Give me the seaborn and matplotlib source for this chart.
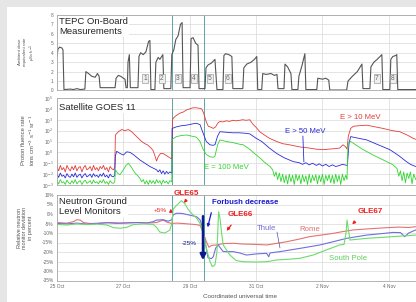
import numpy as np
import matplotlib
matplotlib.use("Agg")
import matplotlib.pyplot as plt
from matplotlib.patches import Rectangle
import seaborn as sns

sns.set_style("white")
plt.rcParams['font.family'] = ['Liberation Sans', 'DejaVu Sans']

# time axis: days since 25 Oct 2003 00:00 UT
day_ticks = [0, 2, 4, 6, 8, 10]
day_labels = ['25 Oct', '27 Oct', '29 Oct', '31 Oct', '2 Nov', '4 Nov']
event_lines = [3.46, 4.43]

# --- TEPC on-board dose rate (uSv/h)
tepc_t = [0.00, 0.03, 0.08, 0.15, 0.18,
          0.21, 0.40, 0.50, 0.60, 0.70, 0.84,
          0.87, 0.95, 1.05, 1.15, 1.22, 1.27,
          1.30, 1.50, 1.75,
          1.78, 1.85, 1.92, 2.00, 2.05,
          2.08, 2.12,
          2.14, 2.18,
          2.21, 2.44,
          2.47, 2.52, 2.60, 2.68, 2.76, 2.80,
          2.83, 2.95,
          2.98, 3.05, 3.10, 3.19,
          3.22, 3.43,
          3.46, 3.52, 3.58, 3.65, 3.72, 3.77,
          3.80, 4.01,
          4.04, 4.10, 4.18, 4.25,
          4.28, 4.46,
          4.49, 4.55, 4.65, 4.76,
          4.82, 5.00,
          5.03, 5.08, 5.18, 5.27,
          5.30, 5.60,
          5.63, 5.72, 5.85, 5.95, 6.02,
          6.05, 6.17,
          6.20, 6.30, 6.45, 6.55, 6.63,
          6.66, 6.84,
          6.87, 6.95, 7.05,
          7.08, 7.26,
          7.29, 7.38, 7.47,
          7.50, 7.83,
          7.86, 8.00, 8.10, 8.19,
          8.22, 8.73,
          8.77, 8.90, 9.05, 9.19,
          9.22, 9.43,
          9.46, 9.55, 9.65, 9.79,
          9.82, 10.03,
          10.06, 10.12, 10.20, 10.24,
          10.27, 10.50, 10.81]
tepc_v = [3.6, 4.4, 4.6, 4.5, 4.3,
          0.1, 0.15, 0.1, 0.2, 0.1, 0.15,
          2.0, 1.8, 1.5, 1.4, 1.8, 1.5,
          0.3, 0.3, 0.3,
          1.3, 1.6, 1.5, 1.3, 1.2,
          0.3, 0.3,
          3.0, 3.8,
          0.3, 0.3,
          3.6, 4.0, 3.8, 4.1, 5.2, 5.3,
          0.1, 0.1,
          3.0, 3.5, 3.3, 3.8,
          0.2, 0.2,
          3.8, 4.3, 5.4, 5.8, 7.0, 7.2,
          0.3, 0.3,
          5.5, 5.6, 5.0, 4.8,
          0.2, 0.2,
          2.4, 2.7, 2.9, 3.3,
          0.1, 0.1,
          3.7, 3.9, 3.8, 3.6,
          0.2, 0.2,
          2.4, 2.8, 3.0, 3.3, 3.6,
          0.1, 0.1,
          1.8, 1.7, 1.8, 1.6, 1.7,
          0.2, 0.2,
          2.8, 2.5, 1.8,
          0.1, 0.1,
          1.5, 2.6, 3.9,
          0.1, 0.1,
          1.3, 1.2, 1.3, 1.1,
          0.05, 0.05,
          1.0, 1.5, 2.0, 2.8,
          0.2, 0.2,
          2.5, 3.0, 3.3, 3.8,
          0.1, 0.1,
          3.3, 3.6, 3.7, 3.8,
          0.1, 0.1, 0.1]
orbit_t = [2.65, 3.16, 3.64, 4.13, 4.61, 5.15, 9.64, 10.12]
orbit_no = ['1', '2', '3', '4', '5', '6', '7', '8']

# --- GOES 11 proton flux, log10 values
goes_bg_t = [0.00, 0.05, 0.10, 0.15, 0.20, 0.25, 0.30, 0.35, 0.40, 0.45,
             0.50, 0.55, 0.60, 0.65, 0.70, 0.75, 0.80, 0.85, 0.90, 0.95,
             1.00, 1.05, 1.10, 1.15, 1.20, 1.25, 1.30, 1.35, 1.40, 1.45,
             1.50, 1.55, 1.60, 1.65, 1.70, 1.74]
red_bg = [-1.3, -1.7, -1.2, -1.6, -1.4, -1.8, -1.2, -1.5, -1.7, -1.3,
          -1.6, -1.2, -1.7, -1.4, -1.3, -1.8, -1.4, -1.2, -1.6, -1.5,
          -1.3, -1.7, -1.2, -1.6, -1.4, -1.7, -1.3, -1.5, -1.2, -1.6,
          -1.4, -1.8, -1.3, -1.5, -1.6, -1.4]
blue_bg = [-2.0, -2.3, -1.9, -2.2, -2.1, -2.35, -1.95, -2.2, -2.3, -2.0,
           -2.25, -1.9, -2.3, -2.1, -2.0, -2.35, -2.1, -1.95, -2.25, -2.15,
           -2.0, -2.3, -1.95, -2.2, -2.1, -2.3, -2.0, -2.2, -1.9, -2.25,
           -2.1, -2.35, -2.0, -2.2, -2.25, -2.1]
green_bg = [-2.6, -2.9, -2.5, -2.8, -2.7, -2.95, -2.55, -2.8, -2.9, -2.6,
            -2.85, -2.5, -2.9, -2.7, -2.6, -2.95, -2.7, -2.55, -2.85, -2.75,
            -2.6, -2.9, -2.55, -2.8, -2.7, -2.9, -2.6, -2.8, -2.5, -2.85,
            -2.7, -2.95, -2.6, -2.8, -2.85, -2.7]

red_ev_t = [1.76, 1.85, 1.95, 2.05, 2.15, 2.25, 2.35, 2.45, 2.55, 2.65,
            2.72, 2.80, 2.89, 2.95, 3.00, 3.05, 3.12, 3.20, 3.30, 3.40, 3.46,
            3.48, 3.52, 3.60, 3.70, 3.80, 3.90, 4.00, 4.10, 4.20, 4.30,
            4.36, 4.42, 4.50, 4.56, 4.65, 4.71, 4.78, 4.85, 4.91, 5.00,
            5.10, 5.20, 5.30, 5.40, 5.50, 5.60, 5.70, 5.81, 5.90, 6.00,
            6.11, 6.25, 6.40, 6.62, 6.80, 7.00, 7.32, 7.60, 7.80, 8.02,
            8.20, 8.40, 8.52, 8.62, 8.70, 8.74, 8.78, 8.85, 8.93, 9.10,
            9.33, 9.50, 9.83, 10.10, 10.33, 10.55, 10.73, 10.81]
red_ev_v = [1.6, 1.9, 2.1, 2.0, 2.1, 1.9, 1.6, 1.3, 1.0, 0.8,
            0.7, 0.5, 0.2, -0.3, -0.8, -0.4, -0.1, -0.1, -0.3, -0.5, -0.6,
            3.0, 3.2, 3.4, 3.6, 3.7, 3.9, 4.0, 4.1, 4.1, 4.05,
            4.0, 3.6, 2.8, 2.4, 2.3, 2.2, 2.35, 2.7, 2.85, 2.8,
            2.9, 2.85, 2.95, 2.9, 2.95, 3.0, 2.95, 3.0, 2.6, 2.3,
            1.9, 1.6, 1.3, 1.0, 0.8, 0.7, 0.5, 0.4, 0.3, 0.25,
            0.3, 0.35, 0.4, 0.7, 0.5, 0.3, 1.5, 2.2, 2.4, 2.45,
            2.5, 2.4, 2.2, 2.0, 1.9, 1.6, 1.3, 1.2]

blue_ev_t = [1.76, 1.80, 1.90, 2.00, 2.10, 2.20, 2.30, 2.40, 2.50, 2.60,
             2.70, 2.80, 2.90, 3.00, 3.05, 3.10, 3.15, 3.20, 3.25, 3.30,
             3.35, 3.40, 3.46,
             3.47, 3.60, 3.75, 3.90, 4.05, 4.20, 4.31, 4.40, 4.50, 4.61,
             4.70, 4.76, 4.84, 4.91, 5.10, 5.30, 5.50, 5.70, 5.81, 6.00,
             6.17, 6.40, 6.62, 6.85, 7.12, 7.30, 7.40, 7.50, 7.60, 7.70,
             7.82, 7.90, 8.00, 8.10, 8.20, 8.30, 8.40, 8.52, 8.60, 8.67,
             8.75, 8.80, 8.85, 9.00, 9.33, 9.60, 10.03, 10.30, 10.53, 10.65,
             10.81]
blue_ev_v = [-0.3, 0.1, -0.1, -0.25, 0.05, 0.0, -0.2, -0.45, -0.7, -0.9,
             -1.1, -1.3, -1.45, -1.6, -1.8, -1.6, -1.95, -1.7, -2.0, -1.75,
             -1.95, -1.8, -1.9,
             2.2, 2.35, 2.45, 2.5, 2.6, 2.68, 2.55, 1.8, 1.0, 0.7,
             0.65, 0.7, 1.5, 1.9, 1.85, 1.8, 1.8, 1.75, 1.7, 1.3,
             1.0, 0.4, -0.1, -0.5, -0.85, -0.95, -1.1, -0.95, -1.15, -1.0,
             -1.2, -1.05, -1.25, -1.1, -1.3, -1.15, -1.3, -1.2, -1.1, -1.15,
             -1.2, 0.8, 1.45, 1.35, 1.15, 0.8, 0.25, -0.3, -0.85, -1.1,
             -1.3]

green_ev_t = [1.76, 1.82, 1.90, 2.00, 2.08, 2.15, 2.25, 2.35, 2.45, 2.50,
              2.55, 2.60, 2.65, 2.70, 2.75, 2.80, 2.85, 2.90, 2.95, 3.00,
              3.05, 3.10, 3.15, 3.20, 3.25, 3.30, 3.35, 3.40, 3.46,
              3.47, 3.60, 3.75, 3.90, 4.05, 4.20, 4.31, 4.40, 4.50, 4.61,
              4.70, 4.76, 4.84, 4.91, 5.10, 5.30, 5.50, 5.61, 5.80, 5.95,
              6.11, 6.25, 6.42, 6.50, 6.55, 6.60, 6.65, 6.70, 6.75, 6.80,
              6.85, 6.90, 6.95, 7.00, 7.05, 7.10, 7.15, 7.20, 7.25, 7.30,
              7.35, 7.40, 7.45, 7.50, 7.55, 7.60, 7.65, 7.70, 7.75, 7.80,
              7.85, 7.90, 7.95, 8.00, 8.05, 8.10, 8.15, 8.20, 8.25, 8.30,
              8.35, 8.40, 8.45, 8.50, 8.55, 8.60, 8.65, 8.70, 8.74, 8.77,
              8.85, 9.00, 9.20, 9.35, 9.53, 9.70, 9.90, 10.13, 10.25, 10.30,
              10.35, 10.40, 10.45, 10.50, 10.55, 10.60, 10.65, 10.70, 10.75, 10.81]
green_ev_v = [-1.6, -1.9, -2.05, -1.6, -1.2, -1.0, -1.4, -1.9, -2.2, -2.4,
              -2.7, -2.5, -2.9, -2.6, -2.95, -2.55, -2.85, -2.6, -2.9, -2.5,
              -2.8, -2.6, -2.95, -2.55, -2.8, -2.65, -2.9, -2.6, -2.7,
              1.2, 1.45, 1.55, 1.6, 1.5, 1.4, 1.0, 0.3, -0.2, -0.4,
              -0.45, -0.35, 0.7, 1.15, 1.0, 0.9, 0.75, 0.7, 0.3, -0.1,
              -0.5, -0.9, -1.3, -1.6, -2.2, -1.8, -2.5, -1.9, -2.7, -2.0,
              -2.8, -2.1, -2.9, -2.0, -2.7, -2.1, -2.95, -2.0, -2.6, -2.1,
              -2.9, -2.05, -2.7, -2.15, -2.95, -2.0, -2.8, -2.1, -2.6, -2.05,
              -2.9, -2.1, -2.7, -2.0, -2.95, -2.1, -2.6, -2.05, -2.8, -2.1,
              -2.9, -2.0, -2.7, -2.1, -2.95, -2.0, -2.6, -2.1, -2.5, 0.9,
              1.0, 0.7, 0.3, 0.05, -0.25, -0.5, -0.8, -1.15, -1.5, -2.2,
              -1.7, -2.6, -1.8, -2.8, -1.9, -2.4, -1.8, -2.9, -2.0, -2.5]
goes_decades = [-3, -2, -1, 0, 1, 2, 3, 4, 5]

# --- neutron monitors, relative deviation in percent
rome_t = [0, 0.3, 0.5, 0.6, 0.7, 0.8, 1.0, 1.3, 1.6, 1.9,
          2.2, 2.5, 2.8, 3.0, 3.1, 3.2, 3.3, 3.45, 3.6, 3.8,
          4.0, 4.2, 4.31, 4.4, 4.5, 4.58, 4.66, 4.81, 5.0, 5.31,
          5.6, 6.0, 6.32, 6.6, 6.92, 7.3, 7.62, 8.0, 8.32, 8.6,
          8.92, 9.4, 9.93, 10.3, 10.6, 10.81]
rome_v = [-4.5, -4.8, -4.0, -3.0, -3.2, -4.5, -5.0, -4.8, -4.5, -4.8,
          -4.6, -4.5, -4.7, -4.5, -3.8, -3.2, -4.2, -5.0, -4.8, -5.0,
          -5.3, -5.6, -6.0, -9.5, -14.5, -17.5, -16.5, -16.3, -15.6, -15.4,
          -15.8, -16.0, -16.3, -15.5, -14.6, -13.2, -11.9, -11.0, -10.2, -9.3,
          -8.4, -7.8, -7.2, -6.9, -7.1, -6.7]
thule_t = [0, 0.3, 0.6, 0.9, 1.2, 1.5, 1.8, 2.1, 2.4, 2.7,
           2.9, 3.0, 3.2, 3.35, 3.46, 3.5, 3.6, 3.77, 4.0, 4.2,
           4.31, 4.4, 4.5, 4.55, 4.65, 4.71, 4.78, 4.86, 4.95, 5.01,
           5.31, 5.5, 5.71, 6.0, 6.32, 6.38, 6.42, 6.72, 7.32, 7.92,
           8.32, 8.73, 9.33, 9.8, 10.13, 10.35, 10.48, 10.6, 10.81]
thule_v = [-5.0, -5.2, -4.8, -5.3, -5.0, -4.6, -4.9, -4.7, -4.5, -4.8,
           -4.0, -3.2, -3.0, -3.8, -3.0, -0.5, 0.4, 0.3, -0.6, -1.4,
           -3.0, -8.0, -18, -23, -23.5, -22.5, -18, -16.3, -18.5, -19.8,
           -19.8, -20.5, -21.6, -21.0, -20.7, -22.5, -20.5, -19.8, -18.1, -16.3,
           -14.6, -12.8, -11.1, -10.3, -9.7, -9.8, -11.9, -10.0, -8.4]
pole_t = [0, 0.3, 0.6, 0.9, 1.2, 1.5, 1.7, 1.9, 2.1, 2.3,
          2.6, 2.9, 3.0, 3.1, 3.25, 3.4, 3.46, 3.5, 3.6, 3.75,
          3.85, 3.95, 4.1, 4.2, 4.31, 4.41, 4.5, 4.61, 4.68, 4.76,
          4.82, 4.87, 4.91, 4.96, 5.01, 5.21, 5.4, 5.61, 6.0, 6.32,
          6.62, 7.0, 7.32, 7.72, 8.12, 8.52, 8.65, 8.71, 8.74, 8.78,
          8.83, 9.33, 9.8, 10.13, 10.5, 10.81]
pole_v = [-5.5, -5.8, -5.2, -5.6, -5.3, -5.8, -7.2, -7.5, -7.0, -5.6,
          -5.2, -5.5, -7.0, -9.5, -10.0, -8.5, -5.0, 2.5, 4.5, 7.0,
          5.5, 2.5, -0.5, -2.0, -4.9, -10.2, -18, -25, -27.7, -26.8,
          -20, 1.2, -2.0, -10, -16.3, -21.6, -24.5, -25.1, -25.3, -25.1,
          -24.2, -23.8, -23.3, -21.6, -18.9, -16.3, -16.0, -10, -3.2, -8,
          -13.7, -12.8, -12.3, -11.9, -11.5, -11.1]
pct_ticks = [10, 5, 0, -5, -10, -15, -20, -25, -30, -35]

# layout in pixels of the 416x302 picture
W, H = 416, 302


def px_axes(left, top, right, bottom):
    return [left / W, 1 - bottom / H, (right - left) / W, (bottom - top) / H]


fig = plt.figure(figsize=(4.16, 3.02), dpi=100, facecolor='#e6e6e6')
fig.add_artist(Rectangle((7 / W, 0), 1, 1 - 7 / H, transform=fig.transFigure,
                         facecolor='white', edgecolor='none', zorder=-1))

ax1 = fig.add_axes(px_axes(57, 15, 422, 90.5))
ax2 = fig.add_axes(px_axes(57, 98, 422, 185))
ax3 = fig.add_axes(px_axes(57, 195, 422, 280.5))

grid_c = '#d9d9d9'
for ax in (ax1, ax2, ax3):
    ax.set_facecolor('white')
    ax.set_xlim(0, 11)
    ax.set_xticks(day_ticks)
    ax.grid(True, which='major', color=grid_c, lw=0.5)
    for s in ax.spines.values():
        s.set_color('#a8a8a8')
        s.set_linewidth(0.6)
    ax.tick_params(axis='both', labelsize=3.4, length=1.5, width=0.4,
                   colors='#9a9a9a', labelcolor='#666666', pad=1)
    for t in event_lines:
        ax.axvline(t, color='#5aa5a8', lw=0.7, zorder=1)
    ax.set_xlabel('')
    ax.set_ylabel('')

# --- top panel: TEPC
sns.lineplot(x=tepc_t, y=tepc_v, ax=ax1, color='#555555', linewidth=0.8)
ax1.set_ylim(0, 8)
ax1.set_yticks(range(0, 9))
ax1.set_xticklabels([])
for t, n in zip(orbit_t, orbit_no):
    ax1.text(t, 1.3, n, fontsize=4.8, color='#6a6a6a', ha='center', va='center',
             bbox=dict(boxstyle='square,pad=0.15', fc='#efefef', ec='#8a8a8a', lw=0.4))
ax1.text(0.07, 7.75, 'TEPC On-Board\nMeasurements', fontsize=6.8, va='top', ha='left',
         linespacing=1.05, bbox=dict(fc='white', ec='none', pad=0.6), zorder=5)

# --- middle panel: GOES 11
sns.lineplot(x=goes_bg_t + red_ev_t, y=10 ** np.array(red_bg + red_ev_v),
             ax=ax2, color='#e53b37', linewidth=0.6)
sns.lineplot(x=goes_bg_t + blue_ev_t, y=10 ** np.array(blue_bg + blue_ev_v),
             ax=ax2, color='#2a2ad8', linewidth=0.6)
sns.lineplot(x=goes_bg_t + green_ev_t, y=10 ** np.array(green_bg + green_ev_v),
             ax=ax2, color='#2fd52f', linewidth=0.6)
ax2.set_yscale('log')
ax2.set_ylim(1e-3, 1e5)
ax2.set_yticks([10.0 ** d for d in goes_decades])
ax2.set_yticklabels(['10$^{%d}$' % d for d in goes_decades])
ax2.minorticks_off()
ax2.set_xticks(day_ticks)
ax2.set_xticklabels([])
ax2.grid(True, which='major', color=grid_c, lw=0.5)
ax2.text(0.06, 10 ** 4.1, 'Satellite GOES 11', fontsize=6.8, va='center', ha='left',
         bbox=dict(fc='white', ec='none', pad=0.6), zorder=5)
ax2.text(9.13, 10 ** 3.17, 'E > 10 MeV', fontsize=5.6, color='#e53b37', ha='center', va='center')
ax2.text(7.47, 10 ** 1.88, 'E > 50 MeV', fontsize=5.6, color='#2a2ad8', ha='center', va='center')
ax2.plot([7.41, 7.44], [10 ** 1.5, 10 ** -0.87], color='#2a2ad8', lw=0.6)
ax2.text(5.09, 10 ** -1.42, 'E = 100 MeV', fontsize=5.6, color='#2fd52f', ha='center', va='center')

# --- bottom panel: neutron monitors
sns.lineplot(x=rome_t, y=rome_v, ax=ax3, color='#e57272', linewidth=0.8)
sns.lineplot(x=thule_t, y=thule_v, ax=ax3, color='#6f6fe0', linewidth=0.8)
sns.lineplot(x=pole_t, y=pole_v, ax=ax3, color='#6cdc6c', linewidth=0.8)
ax3.set_ylim(-35, 10)
ax3.set_yticks(pct_ticks)
ax3.set_yticklabels(['%d%%' % p for p in pct_ticks])
ax3.set_xticks(day_ticks)
ax3.set_xticklabels(day_labels)
ax3.text(0.06, 8.7, 'Neutron Ground\nLevel Monitors', fontsize=6.8, va='top', ha='left',
         linespacing=1.05, bbox=dict(fc='white', ec='none', pad=0.6), zorder=5)

red_c, navy_c, blue_c = '#f01e1e', '#0a1a8c', '#1a1ad0'
ax3.text(3.9, 11.0, 'GLE65', fontsize=5.8, color=red_c, weight='bold', ha='center', va='center')
ax3.annotate('', xy=(3.77, 4.7), xytext=(3.95, 8.4),
             arrowprops=dict(arrowstyle='-|>', color=red_c, lw=0.9, mutation_scale=4))
ax3.text(3.1, 2.1, '+5%', fontsize=4.6, color=red_c, ha='center', va='center')
ax3.annotate('', xy=(3.43, 4.3), xytext=(3.43, -0.5),
             arrowprops=dict(arrowstyle='-|>', color=red_c, lw=0.9, mutation_scale=4))
ax3.text(5.66, 5.8, 'Forbush decrease', fontsize=5.6, color=blue_c, weight='bold',
         ha='center', va='center')
ax3.annotate('', xy=(4.52, -8.4), xytext=(4.67, 2.1),
             arrowprops=dict(arrowstyle='-|>', color=blue_c, lw=0.9, mutation_scale=4))
ax3.annotate('', xy=(4.40, -25.8), xytext=(4.40, 0.3),
             arrowprops=dict(arrowstyle='-|>', color=navy_c, lw=1.8, mutation_scale=8))
ax3.text(3.98, -15.3, '-25%', fontsize=4.6, color=navy_c, ha='center', va='center')
ax3.text(5.51, -0.5, 'GLE66', fontsize=5.8, color=red_c, weight='bold', ha='center', va='center')
ax3.annotate('', xy=(5.06, -10.0), xytext=(5.30, -4.7),
             arrowprops=dict(arrowstyle='-|>', color=red_c, lw=0.9, mutation_scale=4))
ax3.text(6.3, -7.4, 'Thule', fontsize=5.6, color='#6f6fe0', ha='center', va='center')
ax3.plot([6.63, 6.72], [-9.5, -17.9], color='#5050b0', lw=0.5)
ax3.text(7.62, -8.4, 'Rome', fontsize=5.6, color='#e57272', ha='center', va='center')
ax3.text(9.43, 1.1, 'GLE67', fontsize=5.8, color=red_c, weight='bold', ha='center', va='center')
ax3.annotate('', xy=(8.83, -6.3), xytext=(9.04, -3.2),
             arrowprops=dict(arrowstyle='-|>', color=red_c, lw=0.9, mutation_scale=4))
ax3.text(8.77, -23.2, 'South Pole', fontsize=5.6, color='#5fd05f', ha='center', va='center')

# axis titles in the left margin
lab_c = '#555555'
fig.text(28 / W, 1 - 52 / H, 'Ambient dose\nequivalent rate\nμSv h$^{-1}$', rotation=90,
         ha='center', va='center', fontsize=3.2, color=lab_c, linespacing=1.1)
fig.text(29 / W, 1 - 140 / H, 'Proton fluence rate\nions cm$^{-2}$ s$^{-1}$ sr$^{-1}$', rotation=90,
         ha='center', va='center', fontsize=4.2, color=lab_c, linespacing=1.2)
fig.text(25 / W, 1 - 228 / H, 'Relative neutron\nmonitor deviation\nin percent', rotation=90,
         ha='center', va='center', fontsize=4.0, color=lab_c, linespacing=1.15)
fig.text(240 / W, 1 - 297 / H, 'Coordinated universal time', ha='center', va='center',
         fontsize=4.5, color=lab_c)

fig.savefig('out.png', dpi=100, facecolor=fig.get_facecolor())
